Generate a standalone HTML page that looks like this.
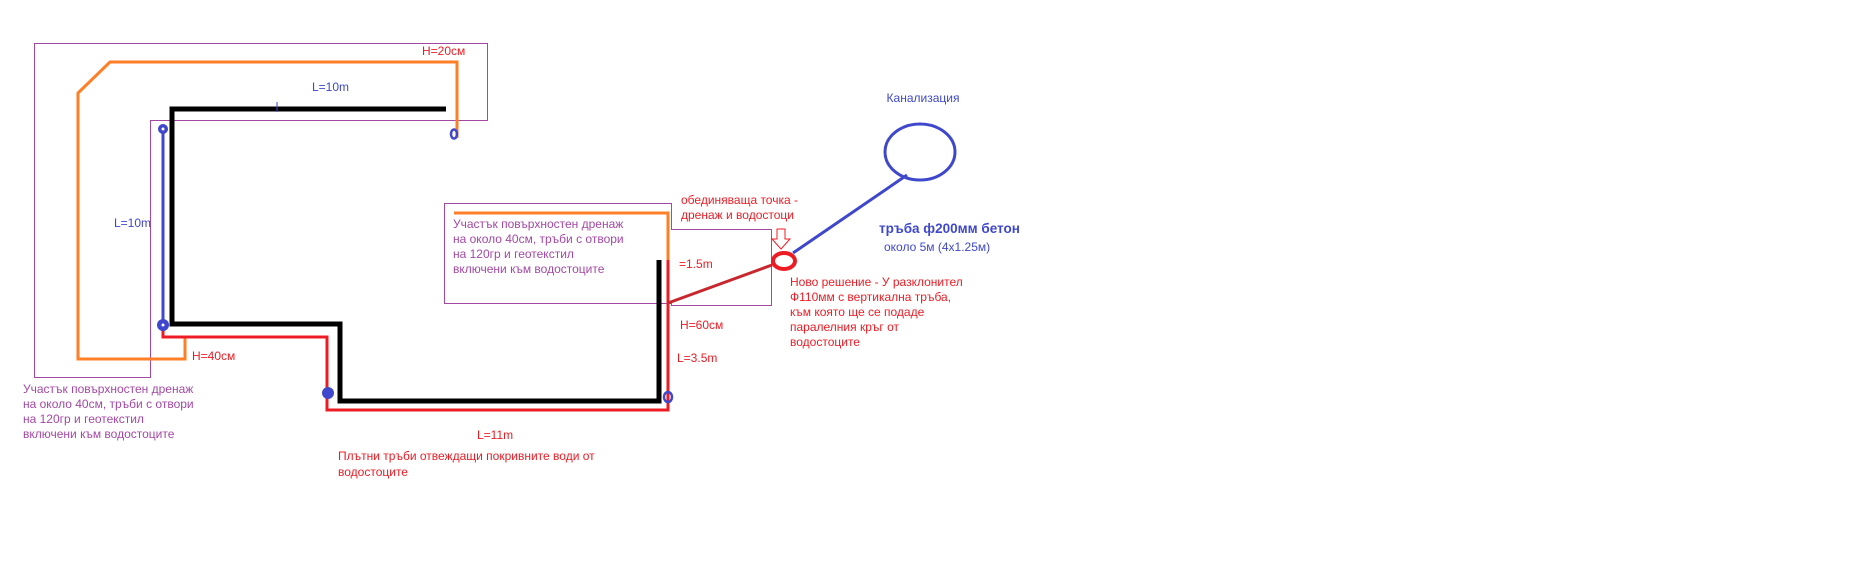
<!DOCTYPE html>
<html><head><meta charset="utf-8"><style>
html,body{margin:0;padding:0;background:#fff;}
svg{display:block}
text{font-family:"Liberation Sans","DejaVu Sans",sans-serif;font-size:12px;}
</style></head><body>
<svg width="1860" height="586" viewBox="0 0 1860 586" xmlns="http://www.w3.org/2000/svg">
<rect width="1860" height="586" fill="#fff"/>
<polygon points="34.5,43.5 487.5,43.5 487.5,120.5 150.5,120.5 150.5,377.5 34.5,377.5" fill="none" stroke="#a349a4" stroke-width="1"/>
<polygon points="444.5,203.5 671.5,203.5 671.5,229.5 771.5,229.5 771.5,305.5 671.5,305.5 671.5,303.5 444.5,303.5" fill="none" stroke="#a349a4" stroke-width="1"/>
<polyline points="457,138 457,62 110,62 78,93 78,359 185,359 185,338" fill="none" stroke="#ff7f27" stroke-width="3"/>
<polyline points="454,213 668,213 668,260" fill="none" stroke="#ff7f27" stroke-width="3"/>
<polyline points="446,109 172,109 172,324 340,324 340,401 659,401 659,260" fill="none" stroke="#000" stroke-width="5"/>
<polyline points="163,330 163,337 327,337 327,410 668,410 668,260" fill="none" stroke="#ed1c24" stroke-width="3"/>
<line x1="668" y1="303" x2="772" y2="265" stroke="#c8282d" stroke-width="3"/>
<ellipse cx="784" cy="261" rx="11" ry="8" fill="none" stroke="#ed1c24" stroke-width="4"/>
<path d="M777 229 h8 v10 h5 l-9 10 l-9 -10 h5 z" fill="#fff" stroke="#ed1c24" stroke-width="1"/>
<line x1="163" y1="129" x2="163" y2="325" stroke="#3f48cc" stroke-width="3"/>
<circle cx="163" cy="129" r="5" fill="#3f48cc"/><circle cx="163" cy="129" r="1.5" fill="#fff"/>
<circle cx="163" cy="325" r="6" fill="#3f48cc"/><circle cx="163" cy="325" r="1.5" fill="#fff"/>
<circle cx="328" cy="393" r="6" fill="#3f48cc"/>
<ellipse cx="454" cy="134" rx="3" ry="4.5" fill="none" stroke="#3f48cc" stroke-width="2.5"/>
<ellipse cx="668" cy="397" rx="4" ry="5" fill="none" stroke="#3f48cc" stroke-width="2.5"/>
<line x1="277" y1="102" x2="277" y2="112" stroke="#3f48cc" stroke-width="1"/>
<line x1="793" y1="253" x2="907" y2="175" stroke="#3f48cc" stroke-width="3"/>
<ellipse cx="920" cy="152" rx="35" ry="28" fill="none" stroke="#3f48cc" stroke-width="3"/>
<text x="422" y="55" fill="#ed1c24">H=20см</text>
<text x="312" y="91" fill="#3f48cc">L=10m</text>
<text x="114" y="227" fill="#3f48cc">L=10m</text>
<text x="192" y="360" fill="#ed1c24">H=40см</text>
<g fill="#a349a4">
<text x="23" y="393">Участък повърхностен дренаж</text>
<text x="23" y="408">на около 40см, тръби с отвори</text>
<text x="23" y="423">на 120гр и геотекстил</text>
<text x="23" y="438">включени към водостоците</text>
<text x="453" y="228">Участък повърхностен дренаж</text>
<text x="453" y="243">на около 40см, тръби с отвори</text>
<text x="453" y="258">на 120гр и геотекстил</text>
<text x="453" y="273">включени към водостоците</text>
</g>
<g fill="#ed1c24">
<text x="681" y="204">обединяваща точка -</text>
<text x="681" y="219">дренаж и водостоци</text>
<text x="679" y="268">=1.5m</text>
<text x="680" y="329">H=60см</text>
<text x="677" y="362">L=3.5m</text>
<text x="477" y="439">L=11m</text>
<text x="338" y="460">Плътни тръби отвеждащи покривните води от</text>
<text x="338" y="476">водостоците</text>
<text x="790" y="286">Ново решение - У разклонител</text>
<text x="790" y="301">Ф110мм с вертикална тръба,</text>
<text x="790" y="316">към която ще се подаде</text>
<text x="790" y="331">паралелния кръг от</text>
<text x="790" y="346">водостоците</text>
</g>
<text x="923" y="102" fill="#3f48cc" text-anchor="middle">Канализация</text>
<text x="879" y="233" fill="#3f48cc" font-weight="bold" style="font-size:13.5px">тръба ф200мм бетон</text>
<text x="884" y="251" fill="#3f48cc">около 5м (4x1.25м)</text>
</svg>
</body></html>
